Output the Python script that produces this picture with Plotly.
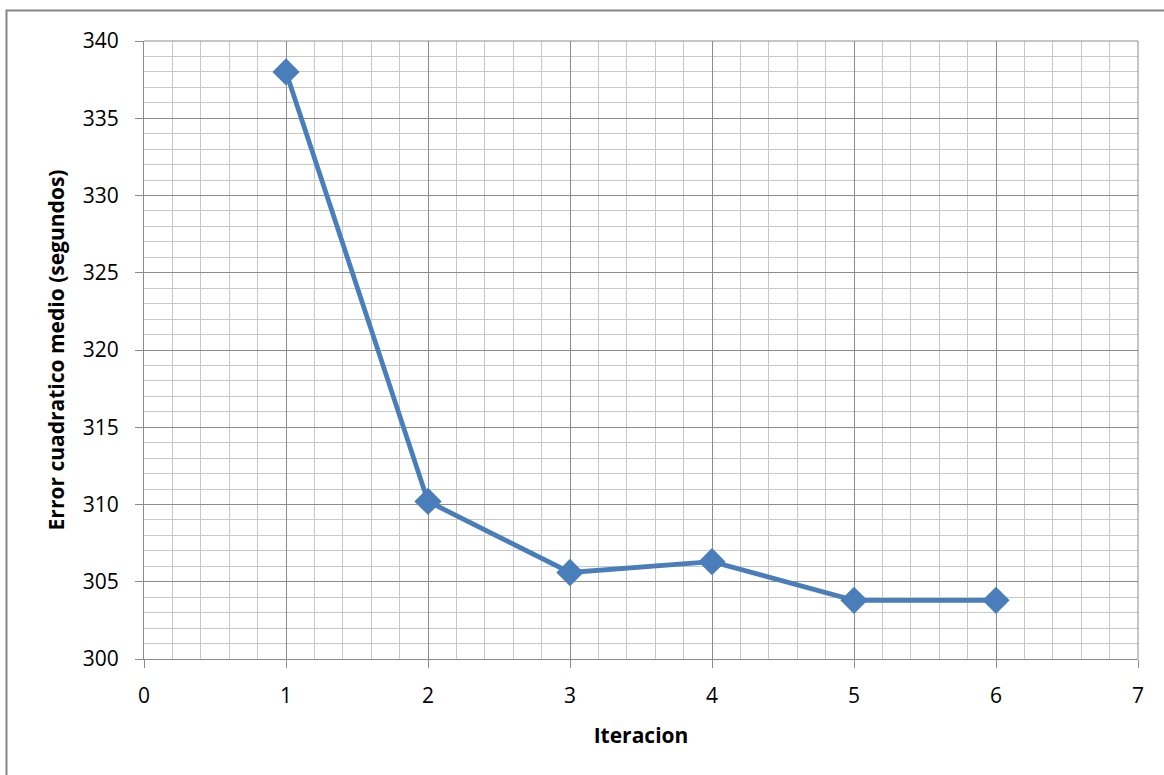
import plotly.graph_objects as go

iteracion = [1, 2, 3, 4, 5, 6]
error = [338.0, 310.2, 305.6, 306.3, 303.8, 303.8]

x_ticks = [0, 1, 2, 3, 4, 5, 6, 7]
y_ticks = [300, 305, 310, 315, 320, 325, 330, 335, 340]

fig = go.Figure()
fig.add_trace(go.Scatter(
    x=iteracion, y=error, mode="lines+markers",
    line=dict(color="#4a7ebb", width=4.8),
    marker=dict(symbol="diamond", size=21, color="#4a7ebb"),
    showlegend=False,
))

font = "Open Sans, Liberation Sans, sans-serif"
fig.update_layout(
    width=1164, height=775,
    margin=dict(l=144, r=26, t=41, b=116),
    paper_bgcolor="white", plot_bgcolor="white",
    font=dict(family=font, size=21, color="#000"),
    xaxis=dict(
        range=[0, 7], tickvals=x_ticks, ticktext=[str(v) for v in x_ticks],
        showgrid=True, gridcolor="#8c8c8c", gridwidth=1,
        minor=dict(dtick=0.2, showgrid=True, gridcolor="#c8c8c8", gridwidth=1),
        showline=True, linecolor="#8c8c8c", linewidth=1,
        ticks="outside", ticklen=8, tickcolor="#8c8c8c",
        ticklabelstandoff=10,
        zeroline=False, mirror=False,
        title=dict(text="<b>Iteracion</b>", font=dict(size=21), standoff=20),
    ),
    yaxis=dict(
        range=[300, 340], tickvals=y_ticks, ticktext=[str(v) for v in y_ticks],
        showgrid=True, gridcolor="#8c8c8c", gridwidth=1,
        minor=dict(dtick=1, showgrid=True, gridcolor="#c8c8c8", gridwidth=1),
        showline=True, linecolor="#8c8c8c", linewidth=1,
        ticks="outside", ticklen=8, tickcolor="#8c8c8c",
        ticklabelstandoff=12,
        zeroline=False, mirror=False,
        title=dict(text="<b>Error cuadratico medio (segundos)</b>", font=dict(size=21), standoff=12),
    ),
)

fig.add_shape(type="line", xref="paper", yref="paper", x0=1, x1=1, y0=0, y1=1,
              line=dict(color="#8c8c8c", width=1))
fig.add_shape(type="line", xref="paper", yref="paper", x0=0, x1=1, y0=1, y1=1,
              line=dict(color="#8c8c8c", width=1))
# outer chart frame: only its top and left edges fall inside the picture
pw, ph = 1164 - 144 - 26, 775 - 41 - 116
fig.add_shape(type="rect", xref="paper", yref="paper",
              x0=(6.5 - 144) / pw, x1=(1180 - 144) / pw,
              y0=(659 - 790) / ph, y1=(659 - 10.5) / ph,
              line=dict(color="#868686", width=2), layer="below")

fig.write_html("out.html", config={"displayModeBar": False},
               post_script="document.body.style.margin='0';document.body.style.overflow='hidden';")
